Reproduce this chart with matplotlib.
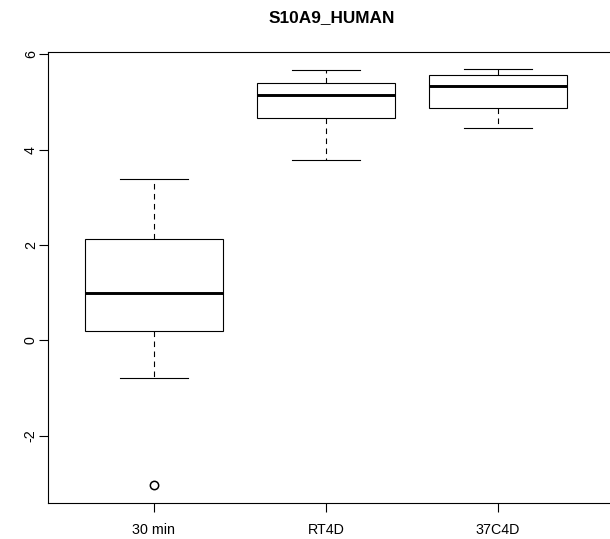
import matplotlib
matplotlib.use("Agg")
import matplotlib.pyplot as plt

# Box statistics
groups = ["30 min", "RT4D", "37C4D"]
whisker_low = [-0.79, 3.78, 4.45]
q1 = [0.19, 4.66, 4.87]
medians = [1.00, 5.14, 5.33]
q3 = [2.13, 5.39, 5.56]
whisker_high = [3.38, 5.68, 5.70]
outliers = [[-3.03], [], []]
y_ticks = [-2, 0, 2, 4, 6]

plt.rcParams['font.family'] = ['Liberation Sans', 'DejaVu Sans']

fig = plt.figure(figsize=(6.10, 5.39), dpi=100)
W, H = 610, 539
left, right, top, bottom = 48, 615, 52, 503
ax = fig.add_axes([left / W, 1 - bottom / H, (right - left) / W, (bottom - top) / H])

stats = []
for i, g in enumerate(groups):
    stats.append(dict(label=g, whislo=whisker_low[i], q1=q1[i], med=medians[i],
                      q3=q3[i], whishi=whisker_high[i], fliers=outliers[i]))

lw = 0.8
ax.bxp(stats, positions=[1, 2, 3], widths=0.8, patch_artist=True,
       boxprops=dict(facecolor='white', edgecolor='black', linewidth=lw),
       medianprops=dict(color='black', linewidth=2.1, solid_capstyle='butt'),
       whiskerprops=dict(color='black', linewidth=lw, linestyle=(0, (5, 4))),
       capprops=dict(color='black', linewidth=lw),
       flierprops=dict(marker='o', markerfacecolor='none', markeredgecolor='black',
                       markersize=6, markeredgewidth=1.1),
       capwidths=0.4)

ax.set_xlim(0.384, 1 + (right - 154) / 172)
ax.set_ylim(-3.41, 6.05)
ax.set_yticks(y_ticks)
ax.set_yticklabels([str(t) for t in y_ticks], rotation=90, va='center')
ax.spines['right'].set_visible(False)
for s in ax.spines.values():
    s.set_linewidth(lw)
ax.tick_params(axis='both', length=6.8, width=lw, labelsize=10.3)
ax.tick_params(axis='x', pad=7.5)
ax.tick_params(axis='y', pad=0.5)

fig.text(332 / W, 1 - 17.5 / H, "S10A9_HUMAN", ha='center', va='center',
         fontsize=12.4, fontweight='bold')

fig.savefig("out.png", dpi=100)
